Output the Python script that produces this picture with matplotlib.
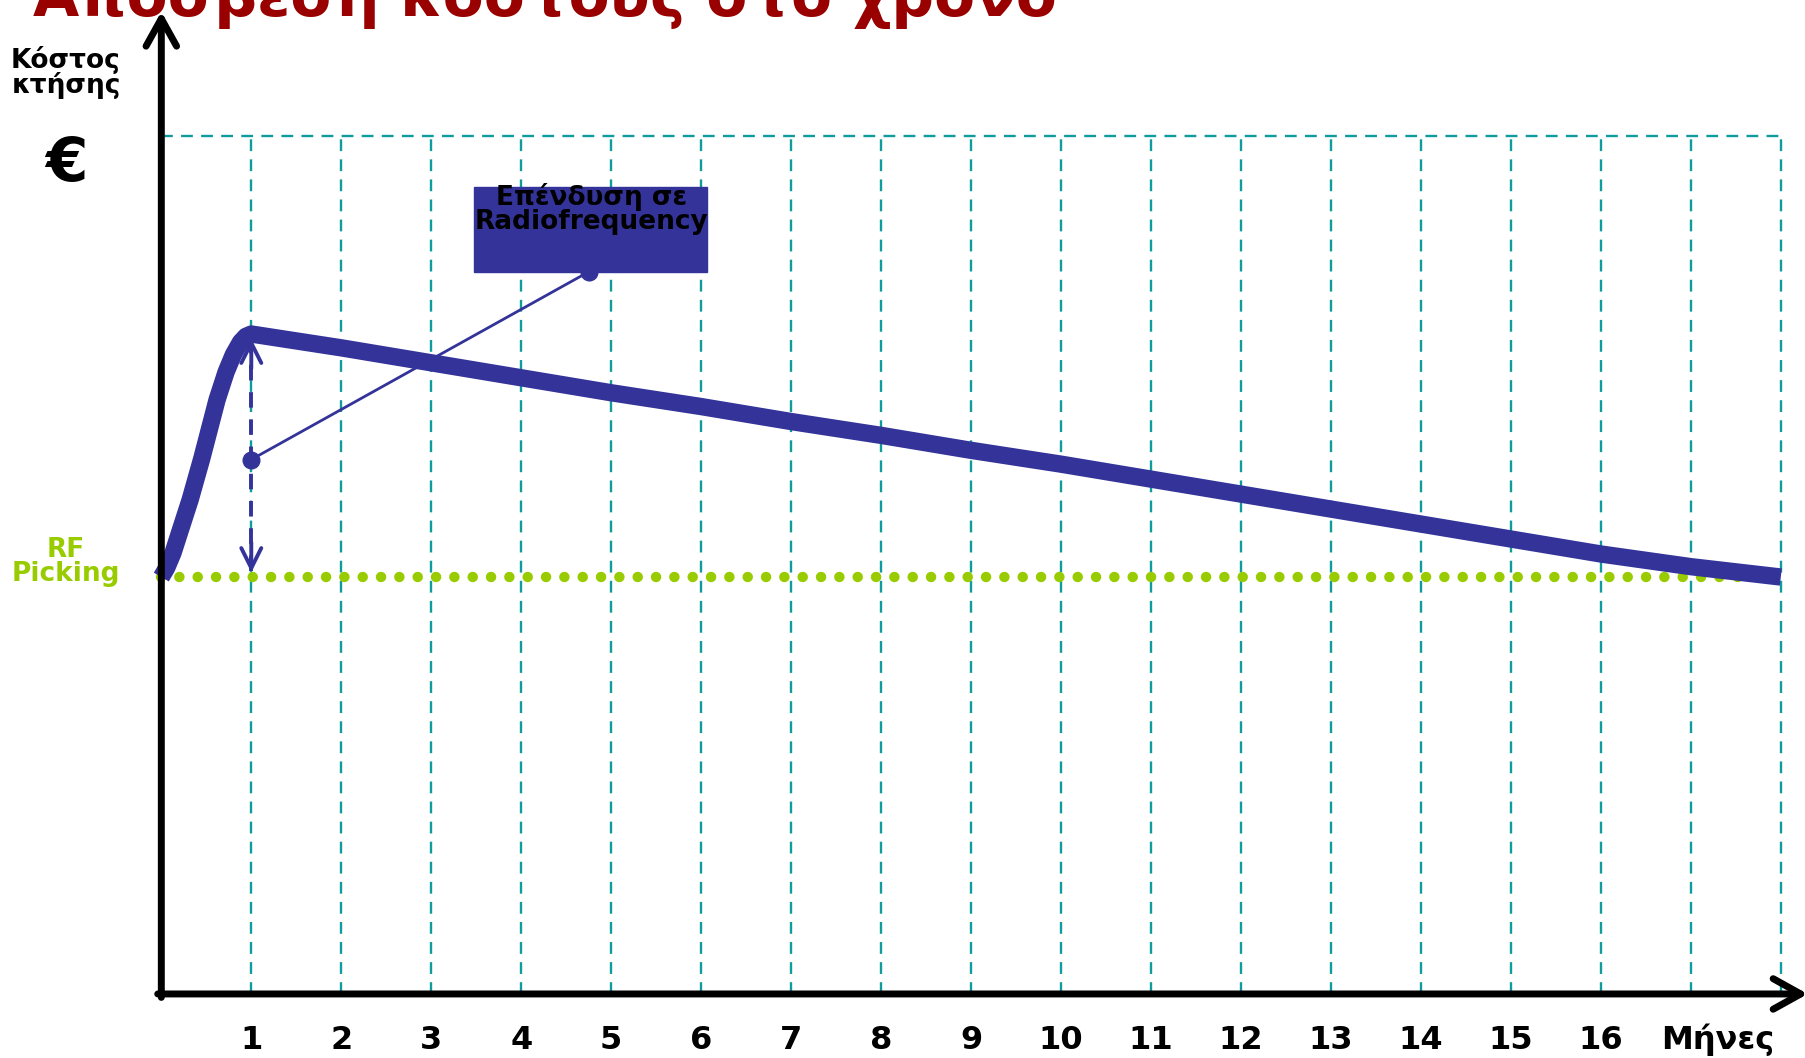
import matplotlib
matplotlib.use('Agg')
import matplotlib.pyplot as plt
from matplotlib.patches import Rectangle

# data (x in months, y in arbitrary cost units)
tick_months = list(range(1, 17))
grid_months = list(range(1, 19))
curve_x = [0, 0.06, 0.13, 0.2, 0.32, 0.45, 0.55, 0.62, 0.72, 0.8, 0.88, 0.94, 1,
           2, 3, 4, 5, 6, 7, 8, 9, 10, 11, 12, 13, 14, 15, 16, 17, 18]
curve_y = [3.62, 3.70, 3.83, 4.00, 4.29, 4.65, 4.95, 5.16, 5.40, 5.55, 5.66, 5.71, 5.73,
           5.61, 5.48, 5.35, 5.22, 5.10, 4.97, 4.85, 4.72, 4.60, 4.47, 4.34, 4.21,
           4.08, 3.95, 3.82, 3.71, 3.62]
rf_level = 3.62
top_level = 7.45
invest_month = 1
invest_peak = 5.73
invest_dot = 4.64
box_anchor = (4.75, 6.27)

BLUE = '#333399'
TEAL = '#109c9c'
GREEN = '#99cc00'
RED = '#990000'

plt.rcParams['font.family'] = ['DejaVu Sans']

fig = plt.figure(figsize=(18.06, 10.58), dpi=100)
ax = fig.add_axes([0, 0, 1, 1])
ax.set_xlim(-1.793, 18.28)
ax.set_ylim(-0.556, 8.63)
ax.axis('off')

# grid
for m in grid_months:
    ax.plot([m, m], [0, top_level], color=TEAL, lw=1.7, ls=(0, (5, 3.5)), zorder=1)
ax.plot([0, grid_months[-1]], [top_level, top_level], color=TEAL, lw=1.7,
        ls=(0, (5, 3.5)), zorder=1)

# RF level dotted
ax.plot([0, grid_months[-1]], [rf_level, rf_level], color=GREEN, lw=7.5,
        ls=(0, (0.01, 1.75)), dash_capstyle='round', zorder=2)

# cost curve
ax.plot(curve_x, curve_y, color=BLUE, lw=12.5, solid_capstyle='butt',
        solid_joinstyle='round', zorder=4)

# axes with arrows
axis_arrow = dict(arrowstyle='->,head_length=0.9,head_width=0.5', lw=5,
                  color='black', shrinkA=0, shrinkB=0, mutation_scale=22)
ax.annotate('', xy=(0, 8.53), xytext=(0, -0.03), arrowprops=axis_arrow,
            annotation_clip=False, zorder=5)
ax.annotate('', xy=(18.3, 0), xytext=(-0.04, 0), arrowprops=axis_arrow,
            annotation_clip=False, zorder=5)

# dashed double arrow for investment
ax.plot([invest_month, invest_month], [rf_level + 0.05, invest_peak - 0.05], color=BLUE,
        lw=2.8, ls=(0, (4, 3)), zorder=3)
head = dict(arrowstyle='->,head_length=0.8,head_width=0.4', lw=2.8, color=BLUE,
            shrinkA=0, shrinkB=0, mutation_scale=18)
ax.annotate('', xy=(invest_month, rf_level + 0.04), xytext=(invest_month, rf_level + 0.3),
            arrowprops=head, zorder=3)
ax.annotate('', xy=(invest_month, invest_peak - 0.04), xytext=(invest_month, invest_peak - 0.3),
            arrowprops=head, zorder=3)

# callout box
ax.add_patch(Rectangle((3.47, 6.27), 2.6, 0.74, color=BLUE, zorder=6))
ax.plot([invest_month, box_anchor[0]], [invest_dot, box_anchor[1]], color=BLUE, lw=2, zorder=6)
ax.plot([invest_month, box_anchor[0]], [invest_dot, box_anchor[1]], 'o', color=BLUE,
        ms=12, zorder=7)
ax.text(4.78, 7.04, 'Επένδυση σε\nRadiofrequency', ha='center', va='top',
        fontsize=19, fontweight='bold', color='black', linespacing=0.88, zorder=8)

# labels
for m in tick_months:
    ax.text(m, -0.4, str(m), ha='center', va='center', fontsize=23, fontweight='bold')
ax.text(17.3, -0.4, 'Μήνες', ha='center', va='center', fontsize=23, fontweight='bold')

ax.text(-1.06, 8.0, 'Κόστος\nκτήσης', ha='center', va='center', fontsize=19,
        fontweight='bold', linespacing=0.88)
ax.text(-1.06, 7.2, '€', ha='center', va='center', fontsize=44, fontweight='bold')
ax.text(-1.06, 3.75, 'RF\nPicking', ha='center', va='center', fontsize=19,
        fontweight='bold', color=GREEN, linespacing=0.88)

fig.text(0.018, 1 - 16 / 1058, 'Απόσβεση κόστους στο χρόνο', ha='left', va='baseline',
         fontsize=43, fontweight='bold', color=RED)

fig.savefig('out.png', dpi=100)
